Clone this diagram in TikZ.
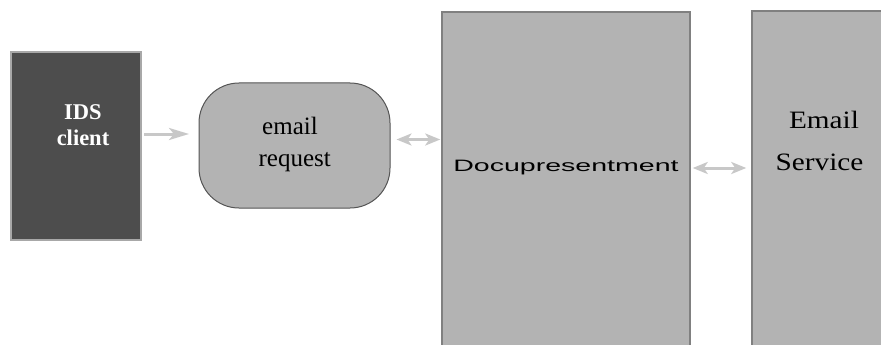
\documentclass[tikz,border=0pt]{standalone}
\usepackage{graphicx}
\usepackage{fontspec}
\setmainfont{Liberation Serif}
\newfontfamily\docufont{Liberation Sans}
\usetikzlibrary{arrows.meta}
\definecolor{darkfill}{HTML}{4D4D4D}
\definecolor{boxgray}{HTML}{B3B3B3}
\definecolor{edgegray}{HTML}{808080}
\definecolor{arrowgray}{HTML}{C8C8C8}
\definecolor{clientedge}{HTML}{A8A8A8}
\definecolor{roundedge}{HTML}{555555}
\begin{document}
\begin{tikzpicture}[x=1pt,y=-1pt,
  clientbox/.style={draw=clientedge,line width=1.5pt,fill=darkfill,minimum width=130pt,minimum height=188pt,inner sep=0pt},
  reqbox/.style={draw=roundedge,line width=1pt,fill=boxgray,rounded corners=40pt,minimum width=191pt,minimum height=125pt,inner sep=0pt},
  tallbox/.style={draw=edgegray,line width=1.5pt,fill=boxgray,inner sep=0pt},
  txt/.style={inner sep=0pt,anchor=base},
  flow/.style={draw=arrowgray,line width=3pt,-{Stealth[length=20pt,width=12pt,inset=5pt]}},
  dflow/.style={draw=arrowgray,line width=3pt,{Stealth[length=15pt,width=12pt,inset=4pt]}-{Stealth[length=15pt,width=12pt,inset=4pt]}}]
\useasboundingbox (0,0) rectangle (881,345);
\fill[white] (0,0) rectangle (881,345);
\node[clientbox] (ids) at (76,146) {};
\node[reqbox] (req) at (294.5,145.5) {};
\node[tallbox,minimum width=248pt,minimum height=360pt] (docu) at (566,192) {};
\node[tallbox,minimum width=160pt,minimum height=360pt] (mail) at (832,191) {};
\node[txt,text=white,font=\bfseries\fontsize{22.5}{24}\selectfont] (t1) at (83,119.3) {IDS};
\node[txt,text=white,font=\bfseries\fontsize{22.5}{24}\selectfont] (t2) at (83,145) {client};
\node[txt,font=\fontsize{25}{27}\selectfont] (t3) at (290,134.3) {email};
\node[txt,font=\fontsize{25}{27}\selectfont] (t4) at (294.7,166.7) {request};
\node[txt] (t5) at (566,171) {\scalebox{1.73}[1]{\docufont\fontsize{16.5}{18}\selectfont Docupresentment}};
\node[txt] (t6) at (824,128) {\scalebox{1.17}[1]{\fontsize{25}{27}\selectfont Email}};
\node[txt] (t7) at (819.5,170) {\scalebox{1.17}[1]{\fontsize{25}{27}\selectfont Service}};
\coordinate (a1s) at (144,134);
\coordinate (a1e) at (189,134);
\coordinate (y2) at (0,139.5);
\coordinate (y3) at (0,168);
\draw[flow] (a1s) -- (a1e);
\draw[dflow,shorten <=6pt,shorten >=1pt] (req.east |- y2) -- (docu.west |- y2);
\draw[dflow,shorten <=2pt,shorten >=5pt] (docu.east |- y3) -- (mail.west |- y3);
\end{tikzpicture}
\end{document}
